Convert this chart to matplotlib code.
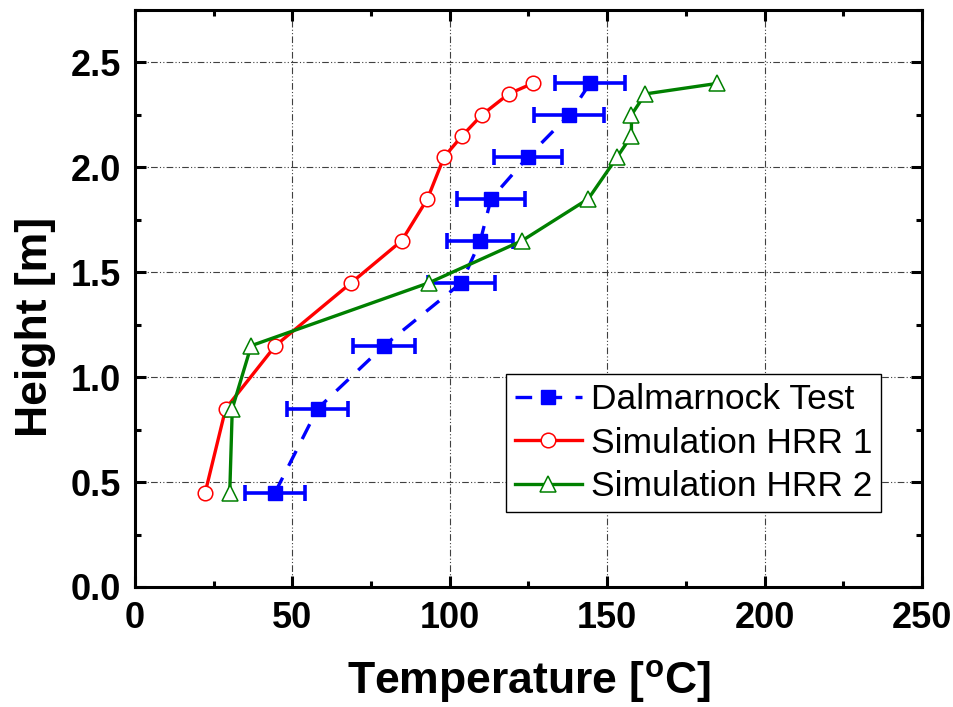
import numpy as np
import matplotlib
matplotlib.use("Agg")
import matplotlib.pyplot as plt
from matplotlib.ticker import MultipleLocator

plt.rcParams['font.family'] = ['Liberation Sans', 'DejaVu Sans']
plt.rcParams['mathtext.fontset'] = 'custom'
plt.rcParams['mathtext.rm'] = 'Liberation Sans:bold'
plt.rcParams['mathtext.bf'] = 'Liberation Sans:bold'

# Dalmarnock test (measured)
test_temp = [44.5, 58.0, 79.1, 103.7, 109.7, 113.1, 124.8, 137.9, 144.5]
test_height = [0.45, 0.85, 1.15, 1.45, 1.65, 1.85, 2.05, 2.25, 2.40]
test_err = [9.4, 9.6, 10.0, 10.5, 10.5, 10.7, 10.8, 11.0, 11.2]

# Simulation HRR 1
hrr1_temp = [22.3, 28.8, 44.6, 68.7, 84.7, 92.9, 98.2, 103.9, 110.2, 118.7, 126.3]
hrr1_height = [0.45, 0.85, 1.15, 1.45, 1.65, 1.85, 2.05, 2.15, 2.25, 2.35, 2.40]

# Simulation HRR 2
hrr2_temp = [30.1, 30.9, 36.9, 93.4, 122.9, 144.0, 153.2, 157.7, 157.7, 162.1, 184.9]
hrr2_height = [0.45, 0.85, 1.15, 1.45, 1.65, 1.85, 2.05, 2.15, 2.25, 2.35, 2.40]

fig = plt.figure(figsize=(9.54, 7.07), dpi=100)
ax = fig.add_axes([135/954, 1 - 587/707, (922 - 135)/954, (587 - 10)/707])

ax.grid(True, which='major', color='0.25', lw=0.8, linestyle=(0, (6, 2, 1, 2, 1, 2)))
ax.set_axisbelow(True)

ax.errorbar(test_temp, test_height, xerr=test_err, fmt='none', ecolor='#0000FF',
            elinewidth=2.6, capsize=6, capthick=2.6, zorder=3)
ax.plot(test_temp, test_height, color='#0000FF', lw=2.4, dashes=(5, 4),
        marker='s', ms=9.5, mfc='#0000FF', mec='#0000FF', label='Dalmarnock Test', zorder=4)
ax.plot(hrr1_temp, hrr1_height, color='#FF0000', lw=2.4, marker='o', ms=10.5,
        mfc='white', mec='#FF0000', mew=1.1, label='Simulation HRR 1', zorder=4)
ax.plot(hrr2_temp, hrr2_height, color='#008000', lw=2.4, marker='^', ms=11.5,
        mfc='white', mec='#008000', mew=1.1, label='Simulation HRR 2', zorder=5)

ax.set_xlim(0, 250)
ax.set_ylim(0, 2.75)
ax.xaxis.set_major_locator(MultipleLocator(50))
ax.xaxis.set_minor_locator(MultipleLocator(25))
ax.yaxis.set_major_locator(MultipleLocator(0.5))
ax.yaxis.set_minor_locator(MultipleLocator(0.25))
ax.yaxis.set_major_formatter(plt.FormatStrFormatter('%.1f'))

for s in ax.spines.values():
    s.set_linewidth(2.2)
ax.tick_params(which='both', direction='in', top=True, right=True, width=2.2)
ax.tick_params(which='major', length=8, labelsize=26, pad=10)
ax.tick_params(which='minor', length=4)
for lab in ax.get_xticklabels() + ax.get_yticklabels():
    lab.set_fontweight('bold')

ax.set_xlabel(r'Temperature [$^{\mathbf{o}}$C]', fontsize=32, fontweight='bold', labelpad=16)
ax.set_ylabel('Height [m]', fontsize=32, fontweight='bold')
ax.yaxis.set_label_coords(-0.101, 0.45)

leg = ax.legend(loc='upper left', bbox_to_anchor=(0.471, 0.369), borderaxespad=0,
                fontsize=25.5, fancybox=False, edgecolor='black', framealpha=1,
                handlelength=1.9, handletextpad=0.25, labelspacing=0.3, borderpad=0.25)
leg.get_frame().set_linewidth(1.0)

fig.savefig('out.png', dpi=100)
